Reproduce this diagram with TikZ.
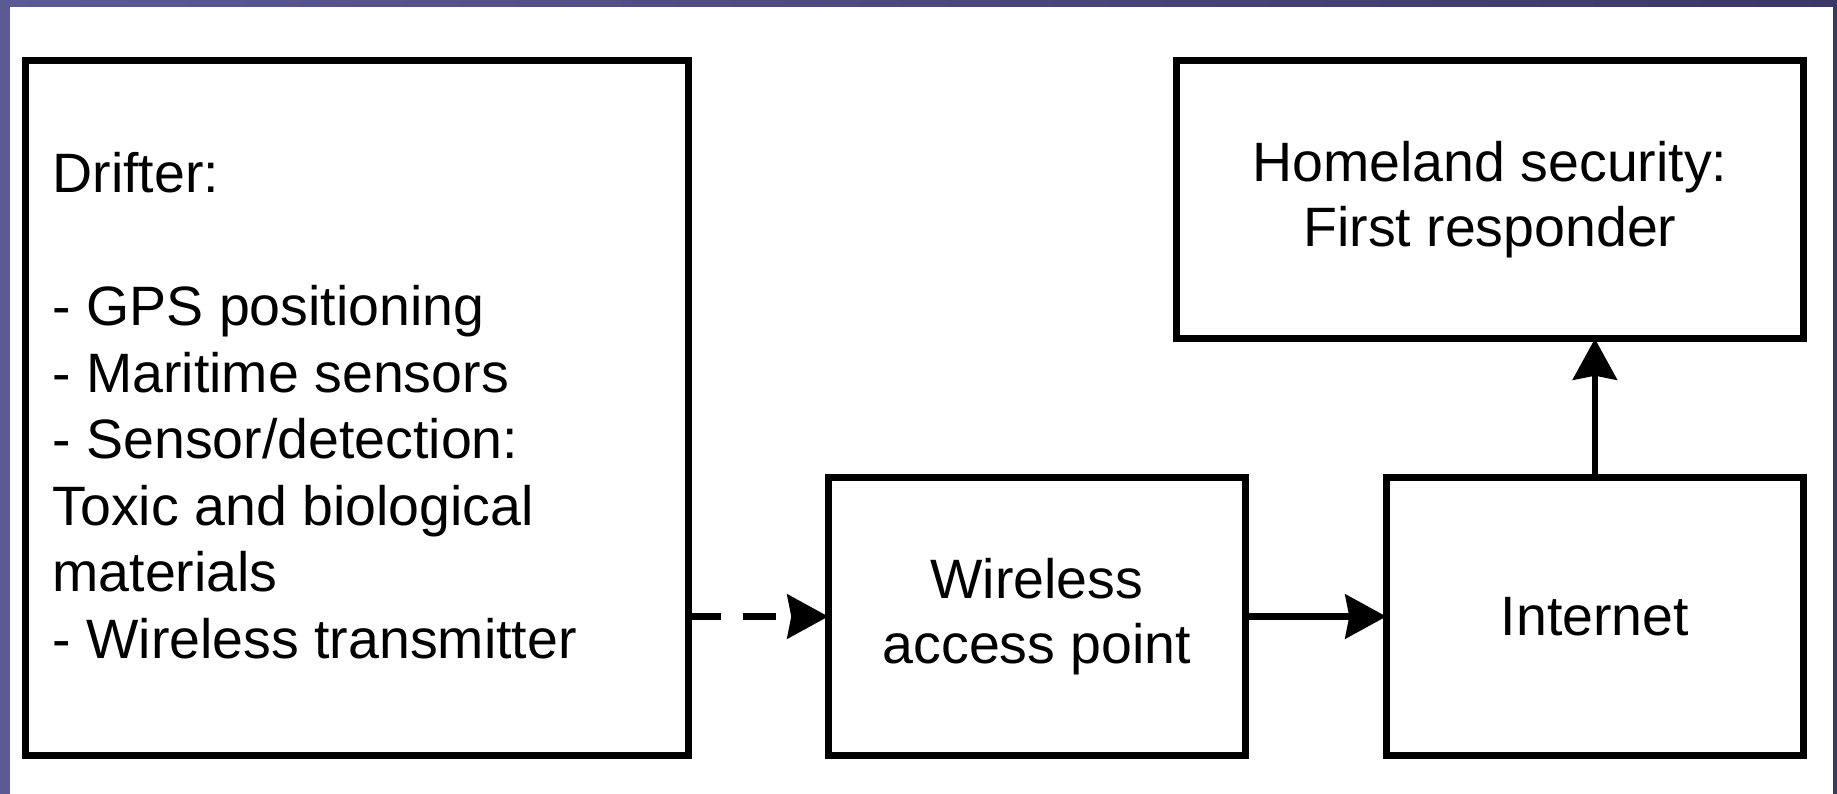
\documentclass[tikz,border=0pt]{standalone}
\usepackage{fontspec}
\setmainfont{Liberation Sans}
\usetikzlibrary{arrows.meta}
\definecolor{bgleft}{RGB}{92,90,148}
\definecolor{bgright}{RGB}{58,56,100}
\begin{document}
\begin{tikzpicture}[x=1pt,y=-1pt,
  box/.style={draw=black,line width=7pt,rectangle,inner sep=0pt,outer sep=0pt,
    align=center,font=\fontsize{55.5}{65}\selectfont},
  txt/.style={anchor=base west,inner sep=0pt,outer sep=0pt,font=\fontsize{55.5}{65}\selectfont},
  conn/.style={line width=6.5pt,line cap=butt,-{Stealth[length=41pt,width=44pt,inset=4pt]}},
]
\useasboundingbox (0,0) rectangle (1837,794);
\shade[left color=bgleft,right color=bgright] (0,0) rectangle (1837,794);
\fill[white] (10,7) rectangle (1833,794);

\node[box,minimum width=662.5pt,minimum height=695pt] (drifter) at (356.75,408) {};
\node[box,minimum width=417.2pt,minimum height=278pt] (wap) at (1036.9,616.5) {Wireless\\access point};
\node[box,minimum width=417.2pt,minimum height=278pt] (internet) at (1594.9,616.5) {Internet};
\node[box,minimum width=627.2pt,minimum height=278.2pt] (homeland) at (1489.9,199.6) {\raisebox{0pt}{Homeland security:}\\First responder};

\node[txt] (d1) at (52.5,192.3) {Drifter:};
\node[txt] (d2) at (52.5,325.5) {- GPS positioning};
\node[txt] (d3) at (52.5,392) {- Maritime sensors};
\node[txt] (d4) at (52.5,458.5) {- Sensor/detection:};
\node[txt] (d5) at (52.5,525) {Toxic and biological};
\node[txt] (d6) at (52.5,591.5) {materials};
\node[txt] (d7) at (52.5,658) {- Wireless transmitter};

\draw[conn,dash pattern=on 33pt off 22pt] (wap.west -| drifter.east) -- (wap.west);
\draw[conn] (wap.east) -- (internet.west);
\draw[conn] (internet.north) -- (internet.north |- homeland.south);
\end{tikzpicture}
\end{document}
